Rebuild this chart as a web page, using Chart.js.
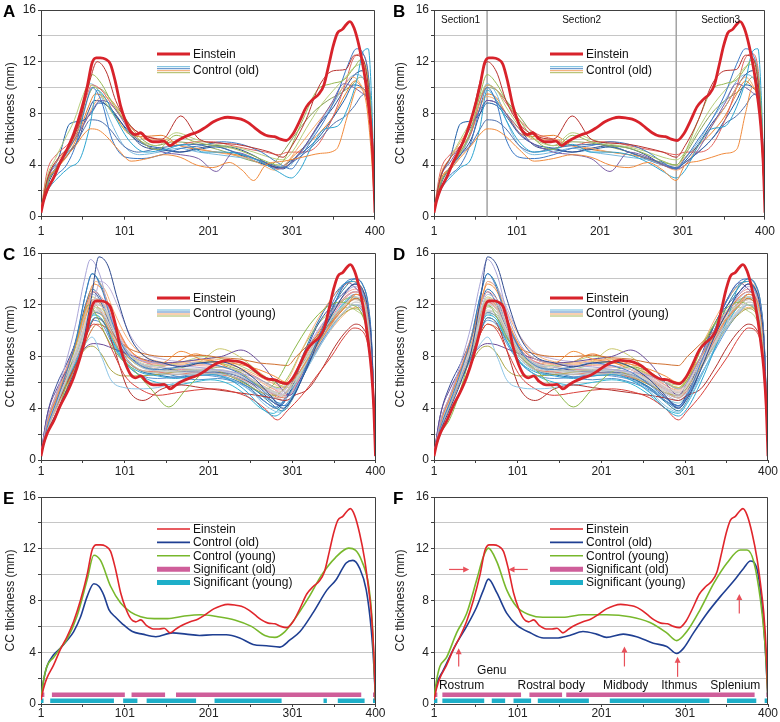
<!DOCTYPE html>
<html>
<head>
<meta charset="utf-8">
<script src="https://cdn.jsdelivr.net/npm/chart.js@4.4.1/dist/chart.umd.min.js"></script>
<style>
  body { margin: 0; background: #fff; width: 780px; height: 722px; position: relative; overflow: hidden; }
  canvas { position: absolute; }
</style>
</head>
<body>
<canvas id="pA" width="390" height="240" style="left:0;top:0"></canvas>
<canvas id="pB" width="390" height="240" style="left:390px;top:0"></canvas>
<canvas id="pC" width="390" height="240" style="left:0;top:240px"></canvas>
<canvas id="pD" width="390" height="240" style="left:390px;top:240px"></canvas>
<canvas id="pE" width="390" height="242" style="left:0;top:480px"></canvas>
<canvas id="pF" width="390" height="242" style="left:390px;top:480px"></canvas>
<script>
// ---- axis ticks ----
const xLabelVals = [1, 101, 201, 301, 400];
const xTickVals = [1, 51, 101, 151, 201, 251, 301, 351, 400];
const yLabelVals = [0, 4, 8, 12, 16];

// ---- Einstein profile ----
const einsteinPos = [1,4,8,16,24,32,40,48,56,62,67,72,78,84,90,96,102,108,114,120,127,135,142,148,155,162,170,179,188,197,207,216,224,232,240,248,256,264,272,280,287,294,302,310,318,326,333,339,345,350,355,361,366,370,375,381,387,391,395,398,400];
const einsteinCC = [0.3,1.2,2.0,3.0,4.2,5.2,6.4,8.0,10.0,11.9,12.3,12.3,12.2,11.8,10.4,8.6,7.4,6.6,6.35,6.5,6.05,5.8,5.8,5.85,5.5,5.8,6.1,6.35,6.55,6.9,7.35,7.6,7.7,7.65,7.55,7.3,6.9,6.5,6.25,6.2,6.0,5.9,6.4,7.4,8.5,9.1,9.5,10.2,11.8,13.2,14.2,14.5,14.9,15.1,14.6,13.2,11.2,9.3,7.0,4.0,0.3];

// ---- group means (E: raw, F: registered) ----
const oldMeanPos = [1,4,8,16,24,32,40,48,56,64,70,76,82,90,98,110,122,138,158,174,190,206,222,238,254,270,286,298,310,326,342,353,365,373,381,389,395,398,400];
const oldMeanCC = [0.4,1.8,2.9,3.8,4.3,4.9,5.6,6.7,8.3,9.3,9.1,8.4,7.3,6.7,6.2,5.6,5.4,5.2,5.5,5.4,5.3,5.35,5.35,5.1,4.6,4.5,4.4,4.95,5.6,7.1,8.8,9.6,10.9,11.1,10.5,8.8,5.7,3.0,0.3];
const youngMeanPos = [1,4,8,16,24,32,44,56,64,72,84,96,108,120,136,152,172,192,212,232,252,268,280,292,304,320,336,352,368,376,384,392,396,398,400];
const youngMeanCC = [0.4,1.8,2.9,3.6,4.3,5.0,6.8,9.6,11.5,11.1,9.1,7.8,7.1,6.75,6.6,6.6,6.8,6.9,6.75,6.5,6.0,5.3,5.15,5.6,6.6,8.2,10.0,11.3,12.05,11.9,11.0,9.1,6.5,3.5,0.3];
const oldRegPos = [1,4,12,28,40,52,60,66,76,88,100,116,132,147,163,179,195,207,227,243,263,279,291,299,311,327,343,359,371,379,387,393,397,400];
const oldRegCC = [0.4,1.5,2.6,4.7,6.0,7.5,8.8,9.65,8.6,7.0,6.1,5.5,5.1,5.1,5.3,5.6,5.4,5.15,5.4,5.2,4.7,4.45,3.9,4.3,5.5,7.0,8.3,9.5,10.5,11.05,10.4,7.5,4.0,0.3];
const youngRegPos = [1,4,8,16,28,40,52,60,66,76,88,100,115,131,155,179,207,235,259,279,291,303,319,335,351,367,375,383,391,396,398,400];
const youngRegCC = [0.4,1.8,2.9,3.6,5.5,7.0,9.6,11.4,12.05,11.0,8.8,7.5,6.9,6.7,6.7,6.9,6.9,6.75,6.3,5.5,4.9,5.6,7.3,9.3,10.9,11.9,11.9,11.0,8.05,5.0,3.0,0.3];

// ---- significance spans ----
const sigOldE = [[1,5],[14,101],[109,149],[162,383],[397,400]];
const sigYoungE = [[1,4],[12,88],[99,116],[127,186],[208,288],[338,342],[355,387],[397,400]];
const sigOldF = [[1,5],[11,105],[115,154],[159,384],[398,400]];
const sigYoungF = [[1,5],[11,61],[70,86],[96,117],[125,186],[211,330],[351,386],[396,400]];
const sigOldLevel = 0.72;
const sigYoungLevel = 0.26;

// ---- landmarks: genu peak and isthmus minimum; registered positions ----
const sectionBounds = [1, 65, 293, 400];
const sectionNames = ['Section1', 'Section2', 'Section3'];
// fractions of each section where a control profile is sampled
const sec1Frac = [0, 0.12, 0.3, 0.5, 0.7, 0.87, 1];
const sec2Frac = [0.05, 0.1, 0.17, 0.25, 0.35, 0.45, 0.55, 0.65, 0.75, 0.85, 0.93, 1];
const sec3Frac = [0.1, 0.25, 0.4, 0.55, 0.68, 0.78, 0.86, 0.92, 0.96, 1];

// ---- individual old controls ----
const oldGenu = [68, 60, 62, 62, 68, 60, 72, 58, 75, 62, 65, 60, 70, 66, 64];
const oldIsthmus = [290, 255, 285, 300, 300, 290, 285, 290, 280, 285, 290, 295, 285, 290, 275];
const oldCC = [
  [0.5,3.0,4.5,5.5,7.5,10.5,12.0, 11.2,9.0,7.2,6.3,6.0,7.8,6.0,5.7,5.6,5.3,5.0,4.6, 5.5,7.5,10.2,11.3,11.4,12.5,12.3,10.5,7.0,0.4],
  [0.5,2.8,3.6,4.6,5.5,6.4,6.8, 6.7,6.2,5.2,4.3,4.5,4.8,4.6,4.0,3.8,4.2,3.6,2.8, 4.0,4.3,4.6,4.9,5.2,8.0,10.0,9.2,6.0,0.4],
  [0.5,2.5,3.8,5.0,6.8,9.5,11.0, 10.3,9.0,7.5,6.0,5.2,6.3,5.8,5.5,5.3,4.8,4.3,4.0, 5.0,7.5,9.8,10.3,10.6,11.5,12.2,11.0,8.0,0.4],
  [0.5,2.2,3.2,4.0,5.8,8.5,10.0, 8.8,6.0,4.6,4.5,4.8,5.3,5.5,5.8,5.6,5.0,4.2,3.7, 4.5,6.0,7.5,9.5,11.8,13.0,12.6,11.0,7.5,0.4],
  [0.5,2.0,3.0,3.8,4.5,7.0,9.8, 9.0,7.5,5.8,5.0,5.2,5.6,5.0,5.0,4.8,4.2,3.5,3.0, 3.6,5.5,6.8,7.0,8.5,10.5,12.8,13.0,9.0,0.4],
  [0.5,2.5,3.8,4.8,5.6,6.8,7.5, 7.4,6.8,5.5,5.0,5.3,5.5,5.6,5.5,5.0,4.5,4.1,3.8, 4.2,5.0,6.0,7.2,7.8,8.6,9.4,9.5,7.0,0.4],
  [0.5,3.0,4.2,5.5,7.0,8.3,9.0, 8.8,8.0,6.5,5.6,5.0,4.8,4.5,3.5,5.0,4.6,4.0,3.7, 4.0,5.2,7.0,8.8,10.3,10.0,9.6,9.0,6.5,0.4],
  [0.5,3.0,4.5,6.0,7.5,9.3,10.2, 9.8,8.5,7.0,6.0,5.5,6.5,6.0,5.6,5.4,5.0,4.6,4.4, 5.0,6.8,8.5,9.8,10.8,11.6,11.8,10.5,7.5,0.4],
  [0.5,3.2,4.5,5.8,7.2,8.8,9.3, 9.0,8.0,6.8,6.0,6.0,5.5,5.3,5.0,4.8,4.5,4.0,3.6, 4.0,5.5,7.0,8.5,10.0,10.8,10.2,9.0,6.5,0.4],
  [0.5,3.5,4.8,5.5,6.5,9.0,10.2, 9.8,8.8,7.5,6.5,6.0,5.5,5.8,5.8,5.5,5.2,5.0,4.8, 5.0,5.0,5.5,7.5,10.0,12.3,12.6,11.5,8.0,0.4],
  [0.5,2.4,3.8,4.8,6.0,8.0,9.0, 8.8,8.0,6.8,5.5,5.2,5.0,5.3,5.5,5.3,4.7,4.0,3.7, 4.3,5.6,7.2,8.5,10.0,11.0,11.3,10.0,7.0,0.4],
  [0.5,2.6,3.6,4.8,6.5,9.0,10.3, 9.5,7.5,5.5,4.8,5.0,5.3,5.0,4.8,4.6,4.4,4.0,3.8, 4.5,5.8,7.5,9.0,10.5,11.0,10.8,9.5,7.0,0.4],
  [0.5,3.0,4.5,7.2,7.4,8.0,8.8, 8.6,7.8,6.4,5.6,5.3,5.0,5.2,5.4,5.0,4.4,4.0,3.8, 4.2,5.0,6.0,7.5,9.0,10.2,10.0,9.2,6.5,0.4],
  [0.5,2.8,3.8,4.8,6.5,8.5,9.5, 9.2,8.0,6.5,6.2,6.3,5.5,5.2,5.0,4.8,4.5,4.0,3.8, 4.6,5.5,6.5,7.8,9.5,10.5,10.0,9.2,6.5,0.4],
  [0.5,2.6,3.8,5.0,6.6,9.0,10.0, 9.8,9.0,7.8,6.3,5.5,5.8,5.7,5.4,5.0,4.5,4.2,4.0, 4.8,6.5,8.0,9.0,9.6,10.2,10.8,10.0,7.0,0.4]
];

// ---- individual young controls ----
const youngGenu = [70,60,62,64,65,66,64,63,58,65,62,64,66,68,64,62,64,66,62,66,63,72,64,60,64,66,64,62,62,66,63,66,61,65,64,68,62,65,63,67];
const youngIsthmus = [290,285,292,295,285,288,282,290,270,280,285,283,293,295,298,280,287,284,289,300,286,283,278,291,287,293,281,296,289,284,286,290,284,289,286,292,282,291,287,288];
const youngCC = [
  [0.5,2.2,4.0,6.0,8.5,12.5,15.7, 15.0,12.5,9.5,8.0,7.5,7.2,7.5,7.6,7.2,6.2,5.0,4.0, 4.8,7.0,9.5,11.5,13.0,13.6,13.2,11.5,8.5,0.4],
  [0.5,3.0,5.0,7.5,10.5,13.8,15.5, 14.3,11.5,9.0,7.8,7.5,7.3,7.2,7.0,6.8,6.5,6.0,5.5, 6.0,8.0,10.0,11.5,12.8,13.4,13.0,11.5,8.5,0.4],
  [0.5,2.5,4.5,6.8,9.5,12.8,14.4, 13.2,10.8,8.5,7.3,7.0,7.2,7.5,7.3,6.8,5.8,4.8,4.2, 5.0,7.5,10.0,12.5,13.8,14.0,13.5,12.0,8.8,0.4],
  [0.5,2.8,4.8,7.0,9.5,12.2,13.6, 13.0,11.0,8.8,7.8,7.5,8.4,7.8,7.6,7.4,7.0,6.5,6.0, 6.5,8.0,9.5,11.0,12.0,12.8,12.5,11.0,8.0,0.4],
  [0.5,2.5,4.5,6.5,8.8,11.0,12.5, 12.0,10.3,8.5,7.4,7.0,6.9,7.0,7.0,6.8,6.2,5.6,5.2, 5.8,7.6,9.4,11.0,12.0,12.6,12.3,10.8,8.0,0.4],
  [0.5,2.6,4.6,6.6,8.6,10.8,12.0, 11.6,10.0,8.2,7.2,6.9,6.8,6.8,6.9,6.7,6.1,5.4,5.0, 5.5,7.3,9.0,10.6,11.6,12.2,12.0,10.6,7.8,0.4],
  [0.5,2.4,4.3,6.3,8.3,10.5,11.5, 11.2,9.8,8.0,7.0,6.7,6.6,6.6,6.7,6.5,5.9,5.2,4.8, 5.3,7.0,8.8,10.4,11.4,12.0,11.8,10.4,7.6,0.4],
  [0.5,2.7,4.7,6.8,8.8,10.8,11.8, 11.4,10.1,8.4,7.5,7.2,7.1,7.1,7.2,7.0,6.4,5.7,5.3, 5.9,7.8,9.6,11.2,12.1,12.6,12.4,11.0,8.2,0.4],
  [0.5,2.0,3.2,5.5,8.5,11.0,12.0, 11.0,9.5,8.0,7.0,5.5,4.1,5.5,6.8,7.2,6.8,6.0,5.5, 6.2,8.5,10.5,11.8,12.2,12.0,11.5,10.0,7.5,0.4],
  [0.5,2.5,4.4,6.3,8.0,10.0,11.0, 10.6,9.2,7.6,6.8,6.5,6.3,6.5,6.6,6.2,5.2,4.0,3.4, 4.0,6.0,8.5,11.0,13.5,13.8,13.0,11.5,8.5,0.4],
  [0.5,2.6,4.5,6.2,7.8,9.0,9.5, 8.0,6.2,5.6,5.5,5.6,6.0,6.5,6.6,6.2,5.3,4.2,3.7, 4.5,6.5,8.5,10.3,11.5,12.0,11.8,10.5,7.8,0.4],
  [0.5,2.8,4.8,6.5,8.0,9.8,10.5, 10.0,8.5,6.5,5.5,5.0,5.2,5.4,5.5,5.3,4.8,4.0,3.1, 3.8,5.0,6.5,8.0,9.5,10.2,10.0,9.0,6.8,0.4],
  [0.5,2.6,4.4,6.2,8.0,10.0,11.0, 10.5,8.5,5.5,4.6,5.5,5.8,5.6,5.4,5.2,5.0,4.8,4.6, 5.0,5.5,7.0,8.8,10.0,10.5,10.2,9.2,7.0,0.4],
  [0.5,2.6,4.4,6.2,8.0,9.8,10.5, 10.2,9.4,8.6,8.2,8.0,8.0,8.1,7.9,7.8,7.5,7.4,7.3, 8.0,9.0,10.0,11.0,12.0,12.5,12.0,10.8,8.0,0.4],
  [0.5,3.5,5.5,7.0,8.0,8.8,9.0, 8.9,8.6,8.2,7.8,7.5,7.6,7.8,8.0,8.5,7.5,6.0,5.0, 6.0,8.0,10.0,12.5,13.7,13.2,12.5,11.0,8.0,0.4],
  [0.5,2.2,3.5,5.5,7.5,8.6,8.8, 8.2,7.0,6.5,6.5,6.6,6.8,7.0,7.0,6.5,5.8,5.2,5.0, 5.6,7.2,8.8,10.3,11.3,11.7,11.4,10.2,7.6,0.4],
  [0.5,2.8,5.0,7.2,9.6,12.0,13.0, 12.4,10.8,8.8,7.8,7.4,7.3,7.3,7.2,7.0,6.5,5.8,5.3, 6.0,8.0,10.0,11.6,12.8,13.2,12.8,11.4,8.4,0.4],
  [0.5,2.5,4.4,6.5,9.0,12.0,13.8, 13.2,11.5,9.5,8.2,7.6,7.5,7.7,7.8,7.4,6.6,5.8,5.4, 6.2,8.6,10.8,12.5,13.5,13.8,13.3,11.8,8.6,0.4],
  [0.5,2.4,4.4,6.4,8.6,11.5,12.8, 12.2,10.4,8.4,7.4,7.2,7.1,7.0,6.9,6.6,5.9,5.1,4.6, 5.2,7.0,8.8,10.4,11.6,12.0,11.8,10.4,7.6,0.4],
  [0.5,2.4,4.2,6.2,8.2,10.4,11.8, 11.4,10.0,8.3,7.4,7.3,7.6,8.0,7.8,7.2,6.5,6.0,5.8, 6.5,8.8,10.5,11.5,11.8,11.5,11.0,9.8,7.2,0.4],
  [0.5,3.5,5.8,7.5,9.5,12.0,13.0, 12.0,10.2,8.3,7.5,7.2,6.9,6.8,6.8,6.6,5.9,4.9,4.2, 5.2,8.0,10.5,12.0,13.0,13.6,13.0,11.6,8.4,0.4],
  [0.5,2.5,4.5,6.6,8.8,11.8,13.8, 13.3,11.8,9.6,8.3,7.8,7.6,7.5,7.3,7.0,6.3,5.5,5.0, 5.6,7.4,9.4,11.2,12.5,13.0,12.6,11.2,8.2,0.4],
  [0.5,2.6,4.6,6.6,8.5,10.4,11.2, 10.8,9.2,7.6,6.6,6.0,5.8,6.0,6.2,5.9,5.0,4.0,3.6, 4.4,6.4,8.6,10.6,12.0,12.6,12.2,10.8,8.0,0.4],
  [0.5,3.0,5.0,7.0,9.0,11.2,12.2, 11.6,10.0,8.0,7.0,6.8,6.6,6.8,6.6,6.4,5.8,5.2,4.8, 5.4,7.2,9.2,11.0,12.2,12.8,12.4,11.0,8.0,0.4],
  [0.5,2.6,4.6,6.6,8.8,11.0,12.3, 11.8,10.2,8.4,7.3,6.9,6.8,6.9,6.9,6.6,6.0,5.4,5.0, 5.6,7.4,9.2,10.8,11.9,12.4,12.1,10.7,7.9,0.4],
  [0.5,2.5,4.4,6.4,8.5,10.6,11.6, 11.2,9.8,8.1,7.1,6.8,6.7,6.7,6.8,6.5,5.9,5.3,4.9, 5.4,7.2,9.0,10.6,11.7,12.2,12.0,10.6,7.8,0.4],
  [0.5,2.5,4.4,6.2,8.0,10.0,10.8, 10.4,9.0,7.5,6.6,6.3,6.4,6.6,6.5,6.2,5.5,4.6,4.1, 4.8,6.6,8.4,10.2,11.4,12.0,11.6,10.3,7.6,0.4],
  [0.5,2.6,4.6,6.8,9.0,11.4,12.6, 12.0,10.2,8.2,7.2,7.0,7.2,7.6,8.6,8.0,6.8,6.0,5.6, 6.2,8.0,9.8,11.2,12.2,12.5,12.0,10.6,7.8,0.4],
  [0.5,2.4,4.4,6.8,9.6,12.8,14.4, 13.4,11.0,8.6,7.4,7.0,6.8,6.9,6.8,6.4,5.5,4.5,3.8, 4.6,7.0,9.6,12.0,13.4,14.0,13.6,12.0,8.8,0.4],
  [0.5,2.5,4.4,6.5,8.7,11.0,12.4, 12.0,10.6,8.8,7.8,7.5,7.4,7.4,7.3,7.0,6.3,5.6,5.2, 5.8,7.5,9.2,10.8,12.0,12.4,12.1,10.8,8.0,0.4],
  [0.5,2.6,4.6,6.6,8.8,11.2,12.4, 11.8,10.0,8.2,7.4,7.2,7.6,8.2,7.6,7.0,6.2,5.4,4.8, 5.6,7.8,9.8,11.4,12.6,13.0,12.6,11.2,8.2,0.4],
  [0.5,2.5,4.4,6.4,8.6,10.6,11.4, 11.0,9.6,8.0,7.2,6.8,6.4,6.2,6.3,6.0,5.4,4.6,4.2, 5.0,7.0,9.0,10.8,12.2,12.8,12.5,11.2,8.2,0.4],
  [0.5,2.8,4.8,6.9,9.0,11.0,11.9, 11.4,9.8,8.0,7.0,6.8,7.0,7.4,7.6,7.2,6.6,6.0,5.6, 6.4,8.6,10.4,11.6,12.4,12.6,12.2,10.8,8.0,0.4],
  [0.5,2.6,4.6,6.6,8.7,10.9,12.1, 11.7,10.1,8.3,7.3,7.0,6.9,6.9,6.9,6.7,6.1,5.5,5.1, 5.7,7.5,9.3,10.9,12.0,12.5,12.2,10.8,7.9,0.4],
  [0.5,2.5,4.5,6.5,8.6,10.7,11.8, 11.4,9.9,8.2,7.2,6.9,6.8,6.8,6.8,6.6,6.0,5.4,5.0, 5.6,7.4,9.2,10.8,11.9,12.4,12.1,10.7,7.9,0.4],
  [0.5,2.4,4.2,6.2,8.4,10.8,12.2, 11.8,10.4,8.6,7.6,7.2,7.0,7.0,7.2,7.0,6.4,5.6,5.0, 5.6,7.6,9.6,11.4,12.6,13.0,12.6,11.2,8.2,0.4],
  [0.5,2.8,4.8,7.0,9.4,12.0,13.2, 12.4,10.4,8.2,7.0,6.6,6.4,6.5,6.6,6.3,5.6,4.6,4.0, 5.0,7.8,10.4,12.4,13.6,13.8,13.2,11.8,8.6,0.4],
  [0.5,2.6,4.6,6.6,8.6,10.6,11.4, 11.0,9.8,8.3,7.6,7.4,7.4,7.6,7.5,7.2,6.6,6.0,5.6, 6.2,7.6,9.0,10.4,11.4,11.8,11.6,10.4,7.8,0.4],
  [0.5,2.6,4.5,6.4,8.4,10.4,11.3, 10.8,9.4,7.8,6.9,6.6,6.6,6.7,6.7,6.4,5.6,4.8,4.4, 5.2,7.2,9.2,11.0,12.3,12.8,12.5,11.0,8.2,0.4],
  [0.5,2.5,4.4,6.4,8.5,10.8,12.0, 11.6,10.1,8.3,7.3,7.0,6.9,6.9,7.0,6.7,6.1,5.4,5.0, 5.6,7.4,9.2,10.8,11.9,12.5,12.2,10.8,7.9,0.4]
];

// ---- panel F annotations ----
const regionNames = ['Rostrum', 'Genu', 'Rostral body', 'Midbody', 'Ithmus', 'Splenium'];
const regionX = [34, 70, 141, 230, 294, 361];
const regionY = [1.4, 2.55, 1.4, 1.4, 1.4, 1.4];
const arrowsF = [[19, 10.4, 43, 10.4], [113, 10.4, 90, 10.4], [30.5, 2.9, 30.5, 4.3], [228.5, 2.9, 228.5, 4.45], [292, 2.1, 292, 3.65], [365.7, 7.0, 365.7, 8.5]];

// ---- styles ----
const FONT = '"Liberation Sans", Arial, sans-serif';
const oldColors = ['#b8332f','#f08a3c','#97b955','#3c79c6','#2ca4d0','#4e70ad','#7b5fa6','#b6ce7c','#f6a96a','#e2635d','#2f4b8d','#79b9df','#1e5fa7','#e8812d','#8aa25b'];
const youngColors = ['#2f4a8e','#aaa6d8','#3d7dc8','#f28e3b','#c6c6c6','#d0d0d0','#bcbcbc','#d8d8d8','#8cb84a','#2ea3cf','#8cc5e6','#d9403a','#b3302c','#d07030','#6a4c98','#a9a545','#f0a0a0','#f9b27a','#a7bcd8','#b8cf88','#3b4f9a','#c0b0d8','#35b6d4','#e8826e','#c4c4c4','#cacaca','#5b8fd0','#c9c66a','#2a7f9e','#f6c19a','#f08030','#4a90c8','#9cc45a','#d2d2d2','#c0c0c0','#e87a9a','#1f6fb0','#f5b070','#7fc4d8','#b9b9b9'];
const ctrlLegendColors = ['#6bb8dc', '#4f86c6', '#f2a062', '#a8b85a'];
const RED = '#d8232b';

function pairs(xs, ys) {
  return xs.map((x, i) => ({ x: x, y: ys[i] }));
}

// place a control profile between its landmarks (raw) or on the registered landmarks
function place(vals, p, d) {
  const xs = sec1Frac.map(f => 1 + f * (p - 1))
    .concat(sec2Frac.map(f => p + f * (d - p)))
    .concat(sec3Frac.map(f => d + f * (400 - d)));
  return xs.map((x, i) => ({ x: x, y: vals[i] }));
}

function line(points, color, width, order) {
  return {
    data: points, borderColor: color, borderWidth: width, pointRadius: 0,
    fill: false, cubicInterpolationMode: 'monotone', order: order
  };
}

function sigBars(spans, level, color) {
  const pts = [];
  spans.forEach(s => {
    pts.push({ x: s[0], y: level }, { x: s[1], y: level }, { x: s[1], y: null });
  });
  return { data: pts, borderColor: color, borderWidth: 4.5, pointRadius: 0, spanGaps: false, borderCapStyle: 'butt', order: 9 };
}

const decor = {
  id: 'decor',
  afterDraw(chart, args, o) {
    const { ctx, chartArea: a, scales } = chart;
    const sx = scales.x, sy = scales.y;
    ctx.save();
    // frame
    ctx.strokeStyle = '#404040';
    ctx.lineWidth = 1;
    ctx.beginPath();
    ctx.moveTo(Math.round(a.left) + 0.5, Math.round(a.top) + 0.5);
    ctx.lineTo(Math.round(a.right) - 0.5, Math.round(a.top) + 0.5);
    ctx.lineTo(Math.round(a.right) - 0.5, Math.round(a.bottom));
    ctx.stroke();
    // panel letter
    ctx.fillStyle = '#000';
    ctx.font = 'bold 17px ' + FONT;
    ctx.textAlign = 'left';
    ctx.textBaseline = 'alphabetic';
    ctx.fillText(o.letter, 3, a.top + 7);
    // legend
    ctx.textBaseline = 'middle';
    ctx.font = '12px ' + FONT;
    o.legend.forEach((e, i) => {
      const yy = a.top + o.legendTop + i * o.legendGap;
      e.colors.forEach((c, k) => {
        const off = (k - (e.colors.length - 1) / 2) * 2;
        ctx.strokeStyle = c;
        ctx.lineWidth = e.width;
        ctx.beginPath();
        ctx.moveTo(a.left + 116, yy + off);
        ctx.lineTo(a.left + 149, yy + off);
        ctx.stroke();
      });
      ctx.fillStyle = '#111';
      ctx.fillText(e.label, a.left + 152, yy + 0.5);
    });
    // section labels
    if (o.sections) {
      ctx.font = '10px ' + FONT;
      ctx.textAlign = 'center';
      ctx.fillStyle = '#111';
      sectionNames.forEach((n, i) => {
        const mid = (sectionBounds[i] + sectionBounds[i + 1]) / 2;
        ctx.fillText(n, sx.getPixelForValue(mid), a.top + 10);
      });
    }
    // region labels and arrows
    if (o.regions) {
      ctx.font = '12px ' + FONT;
      ctx.textAlign = 'center';
      ctx.fillStyle = '#111';
      regionNames.forEach((n, i) => {
        ctx.fillText(n, sx.getPixelForValue(regionX[i]), sy.getPixelForValue(regionY[i]));
      });
      ctx.strokeStyle = '#e8505a';
      ctx.fillStyle = '#e8505a';
      ctx.lineWidth = 1.2;
      arrowsF.forEach(r => {
        const x1 = sx.getPixelForValue(r[0]), y1 = sy.getPixelForValue(r[1]);
        const x2 = sx.getPixelForValue(r[2]), y2 = sy.getPixelForValue(r[3]);
        const ang = Math.atan2(y2 - y1, x2 - x1);
        ctx.beginPath();
        ctx.moveTo(x1, y1);
        ctx.lineTo(x2 - 4 * Math.cos(ang), y2 - 4 * Math.sin(ang));
        ctx.stroke();
        ctx.beginPath();
        ctx.moveTo(x2, y2);
        ctx.lineTo(x2 - 6 * Math.cos(ang) + 3 * Math.sin(ang), y2 - 6 * Math.sin(ang) - 3 * Math.cos(ang));
        ctx.lineTo(x2 - 6 * Math.cos(ang) - 3 * Math.sin(ang), y2 - 6 * Math.sin(ang) + 3 * Math.cos(ang));
        ctx.closePath();
        ctx.fill();
      });
    }
    ctx.restore();
  }
};

function makeChart(id, datasets, box, decorOpts) {
  return new Chart(document.getElementById(id), {
    type: 'line',
    data: { datasets: datasets },
    options: {
      responsive: false,
      animation: false,
      events: [],
      layout: { padding: { top: box.top, right: box.right, left: 0, bottom: 0 } },
      plugins: { legend: { display: false }, tooltip: { enabled: false }, decor: decorOpts },
      scales: {
        x: {
          type: 'linear', min: 1, max: 400,
          afterBuildTicks: s => { s.ticks = xTickVals.map(v => ({ value: v })); },
          afterFit: s => { s.height = box.bottom; },
          ticks: {
            autoSkip: false, maxRotation: 0, padding: box.labelPad, color: '#222',
            font: { size: 12, family: FONT },
            callback: v => xLabelVals.includes(v) ? String(v) : ''
          },
          grid: { drawOnChartArea: false, tickLength: 3, tickColor: '#404040' },
          border: { color: '#404040', width: 1 }
        },
        y: {
          min: 0, max: 16,
          afterFit: s => { s.width = box.left; },
          ticks: {
            stepSize: 2, padding: 2, color: '#222',
            font: { size: 12, family: FONT },
            callback: v => yLabelVals.includes(v) ? String(v) : ''
          },
          grid: { color: '#c6c6c6', tickLength: 3, tickColor: '#404040' },
          border: { color: '#404040', width: 1 },
          title: {
            display: true, text: 'CC thickness (mm)', color: '#222',
            font: { size: 12, family: FONT }, padding: { top: 3, bottom: 0 }
          }
        }
      }
    },
    plugins: [decor]
  });
}

function controls(cc, genu, isth, colors, registered) {
  return cc.map((vals, i) => line(
    registered ? place(vals, sectionBounds[1], sectionBounds[2]) : place(vals, genu[i], isth[i]),
    colors[i], 1, 2));
}

const einsteinThick = () => line(pairs(einsteinPos, einsteinCC), RED, 2.8, 0);
const sectionLines = [sectionBounds[1], sectionBounds[2]].map(b =>
  ({ data: [{ x: b, y: 0 }, { x: b, y: 16 }], borderColor: '#a3a3a3', borderWidth: 1.5, pointRadius: 0, order: 20 }));

const legendOld = [
  { label: 'Einstein', colors: [RED], width: 3 },
  { label: 'Control (old)', colors: ctrlLegendColors, width: 1 }
];
const legendYoung = [
  { label: 'Einstein', colors: [RED], width: 3 },
  { label: 'Control (young)', colors: ctrlLegendColors, width: 1 }
];
const legendMeans = [
  { label: 'Einstein', colors: ['#e0262c'], width: 1.6 },
  { label: 'Control (old)', colors: ['#1f3f92'], width: 1.6 },
  { label: 'Control (young)', colors: ['#78b82c'], width: 1.6 },
  { label: 'Significant (old)', colors: ['#cf5e9a'], width: 5 },
  { label: 'Significant (young)', colors: ['#1eafc9'], width: 5 }
];

const boxL = { left: 41, right: 14.5 };
const boxR = { left: 44, right: 12 };

makeChart('pA', [einsteinThick()].concat(controls(oldCC, oldGenu, oldIsthmus, oldColors, false)),
  Object.assign({ top: 10, bottom: 23.3, labelPad: 5 }, boxL),
  { letter: 'A', legend: legendOld, legendTop: 44, legendGap: 15.7 });

makeChart('pB', [einsteinThick()].concat(controls(oldCC, oldGenu, oldIsthmus, oldColors, true), sectionLines),
  Object.assign({ top: 10, bottom: 23.3, labelPad: 5 }, boxR),
  { letter: 'B', legend: legendOld, legendTop: 44, legendGap: 15.7, sections: true });

makeChart('pC', [einsteinThick()].concat(controls(youngCC, youngGenu, youngIsthmus, youngColors, false)),
  Object.assign({ top: 13, bottom: 20, labelPad: 1.5 }, boxL),
  { letter: 'C', legend: legendYoung, legendTop: 45, legendGap: 15 });

makeChart('pD', [einsteinThick()].concat(controls(youngCC, youngGenu, youngIsthmus, youngColors, true)),
  Object.assign({ top: 13, bottom: 20, labelPad: 1.5 }, boxR),
  { letter: 'D', legend: legendYoung, legendTop: 45, legendGap: 15 });

makeChart('pE', [
    line(pairs(einsteinPos, einsteinCC), '#e0262c', 1.6, 0),
    line(pairs(youngMeanPos, youngMeanCC), '#78b82c', 1.6, 1),
    line(pairs(oldMeanPos, oldMeanCC), '#1f3f92', 1.6, 2),
    sigBars(sigOldE, sigOldLevel, '#cf5e9a'),
    sigBars(sigYoungE, sigYoungLevel, '#1eafc9')
  ],
  Object.assign({ top: 17, bottom: 18, labelPad: -1 }, boxL),
  { letter: 'E', legend: legendMeans, legendTop: 32, legendGap: 13.4 });

makeChart('pF', [
    line(pairs(einsteinPos, einsteinCC), '#e0262c', 1.6, 0),
    line(pairs(youngRegPos, youngRegCC), '#78b82c', 1.6, 1),
    line(pairs(oldRegPos, oldRegCC), '#1f3f92', 1.6, 2),
    sigBars(sigOldF, sigOldLevel, '#cf5e9a'),
    sigBars(sigYoungF, sigYoungLevel, '#1eafc9')
  ],
  Object.assign({ top: 17, bottom: 18, labelPad: -1 }, boxR),
  { letter: 'F', legend: legendMeans, legendTop: 32, legendGap: 13.4, regions: true });
</script>
</body>
</html>
